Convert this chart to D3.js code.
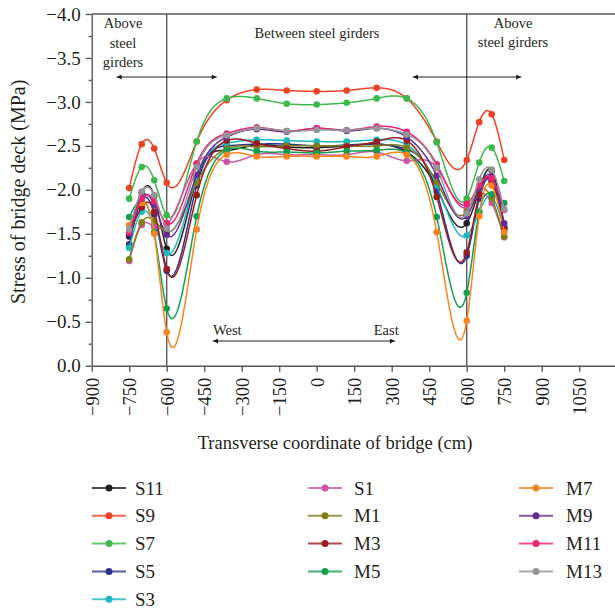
<!DOCTYPE html>
<html>
<head>
<meta charset="utf-8">
<script src="https://cdn.jsdelivr.net/npm/d3@7"></script>
<style>
  body { margin: 0; background: #fff; }
  svg { display: block; }
  text { font-family: "Liberation Serif", "Times New Roman", serif; fill: #231f20; }
</style>
</head>
<body>
<div id="svg_div"></div>
<script>
// measuring positions along the bridge (cm)
var positions = [-750, -700, -650, -600, -480, -360, -240, -120, 0, 120, 240, 360, 480, 600, 650, 700, 750];

// series names in legend order
var seriesNames = ["S11", "S9", "S7", "S5", "S3", "S1", "M1", "M3", "M5", "M7", "M9", "M11", "M13"];
var seriesColors = ["#231f20", "#ef4123", "#3cb94a", "#2e3192", "#1bb8c0", "#c857a5", "#808019",
  "#9b1b1f", "#0fa04f", "#f7841f", "#662d91", "#ec2373", "#939598"];

// stress values (MPa), one array per series
var S11 = [-1.47, -1.97, -1.93, -1.33, -2.12, -2.45, -2.51, -2.49, -2.48, -2.50, -2.52, -2.43, -2.02, -1.62, -2.00, -2.22, -1.58];
var S9  = [-2.02, -2.52, -2.47, -2.08, -2.55, -3.02, -3.14, -3.13, -3.12, -3.13, -3.16, -3.04, -2.55, -2.34, -2.77, -2.86, -2.34];
var S7  = [-1.90, -2.26, -2.11, -1.71, -2.55, -3.04, -3.04, -2.98, -2.97, -2.99, -3.04, -3.04, -2.54, -1.90, -2.31, -2.48, -2.10];
var S5  = [-1.38, -1.88, -1.72, -1.08, -2.05, -2.50, -2.52, -2.52, -2.50, -2.51, -2.52, -2.46, -1.98, -1.25, -1.90, -2.10, -1.56];
var S3  = [-1.34, -1.75, -1.60, -1.28, -2.15, -2.53, -2.57, -2.56, -2.55, -2.55, -2.57, -2.51, -2.05, -1.48, -1.75, -1.92, -1.55];
var S1  = [-1.19, -1.60, -1.58, -1.60, -2.30, -2.32, -2.40, -2.40, -2.40, -2.40, -2.43, -2.33, -2.25, -1.80, -1.95, -1.85, -1.46];
var M1  = [-1.21, -1.63, -1.65, -1.52, -2.08, -2.47, -2.49, -2.50, -2.50, -2.50, -2.50, -2.48, -2.09, -1.75, -2.00, -1.90, -1.47];
var M3  = [-1.50, -1.80, -1.75, -1.10, -1.94, -2.56, -2.53, -2.47, -2.44, -2.49, -2.55, -2.56, -1.92, -1.29, -1.95, -2.10, -1.55];
var M5  = [-1.69, -1.88, -1.52, -0.65, -1.70, -2.45, -2.44, -2.43, -2.42, -2.44, -2.45, -2.42, -1.69, -0.83, -1.75, -1.95, -1.85];
var M7  = [-1.60, -1.85, -1.50, -0.38, -1.55, -2.40, -2.38, -2.38, -2.38, -2.38, -2.38, -2.40, -1.52, -0.51, -1.70, -2.05, -1.52];
var M9  = [-1.50, -1.92, -1.83, -1.49, -2.17, -2.60, -2.69, -2.66, -2.70, -2.67, -2.70, -2.60, -2.16, -1.70, -2.02, -2.15, -1.62];
var M11 = [-1.52, -1.90, -1.87, -1.62, -2.30, -2.64, -2.71, -2.67, -2.70, -2.68, -2.72, -2.66, -2.29, -1.84, -2.05, -2.13, -1.77];
var M13 = [-1.55, -1.98, -1.94, -1.56, -2.26, -2.62, -2.70, -2.67, -2.68, -2.68, -2.70, -2.63, -2.25, -1.73, -2.12, -2.23, -1.78];
var seriesValues = [S11, S9, S7, S5, S3, S1, M1, M3, M5, M7, M9, M11, M13];

// axis ticks
var xTicks = [-900, -750, -600, -450, -300, -150, 0, 150, 300, 450, 600, 750, 900, 1050];
var yTicks = [0, -0.5, -1, -1.5, -2, -2.5, -3, -3.5, -4];
var yMinorTicks = [-0.25, -0.75, -1.25, -1.75, -2.25, -2.75, -3.25, -3.75];
var girderLines = [-600, 600];

var width = 615, height = 610;
var plot = {left: 91.7, right: 616.7, top: 14, bottom: 365.7};
var axisColor = "#58595b";

var svg = d3.select("#svg_div")
  .append("svg")
  .attr("width", width)
  .attr("height", height);

var x = d3.scaleLinear().domain([-900, 1200]).range([plot.left, plot.right]);
var y = d3.scaleLinear().domain([0, -4]).range([plot.bottom, plot.top]);

// frame: top border and girder lines
svg.append("line")
  .attr("x1", plot.left).attr("x2", plot.right)
  .attr("y1", plot.top).attr("y2", plot.top)
  .attr("stroke", axisColor).attr("stroke-width", 1.4);

svg.selectAll(".girder")
  .data(girderLines)
  .enter().append("line")
  .attr("class", "girder")
  .attr("x1", function(d) { return x(d); }).attr("x2", function(d) { return x(d); })
  .attr("y1", plot.top).attr("y2", plot.bottom)
  .attr("stroke", axisColor).attr("stroke-width", 1.4);

// x axis
var xAxis = svg.append("g")
  .attr("transform", `translate(0, ${plot.bottom})`)
  .call(d3.axisBottom(x).tickValues(xTicks).tickSize(6).tickSizeOuter(0).tickFormat(d3.format("d")));
xAxis.select(".domain").attr("stroke", axisColor).attr("stroke-width", 1.4);
xAxis.selectAll(".tick line").attr("stroke", axisColor).attr("stroke-width", 1.4);
xAxis.selectAll(".tick text")
  .attr("transform", "rotate(-90)")
  .attr("text-anchor", "end")
  .attr("x", -12)
  .attr("y", 0)
  .attr("dy", "0.35em")
  .attr("font-size", "18.5px")
  .attr("font-family", "Liberation Serif")
  .attr("fill", "#231f20");

// y axis with minor ticks
var yAxis = svg.append("g")
  .attr("transform", `translate(${plot.left}, 0)`)
  .call(d3.axisLeft(y).tickValues(yTicks).tickSize(6).tickSizeOuter(0).tickFormat(d3.format(".1f")));
yAxis.select(".domain").attr("stroke", axisColor).attr("stroke-width", 1.4);
yAxis.selectAll(".tick line").attr("stroke", axisColor).attr("stroke-width", 1.4);
yAxis.selectAll(".tick text")
  .attr("x", -11)
  .attr("font-size", "19px")
  .attr("font-family", "Liberation Serif")
  .attr("fill", "#231f20");

svg.append("g")
  .attr("transform", `translate(${plot.left}, 0)`)
  .call(d3.axisLeft(y).tickValues(yMinorTicks).tickSize(3).tickFormat(""))
  .call(function(g) {
    g.select(".domain").remove();
    g.selectAll(".tick line").attr("stroke", axisColor).attr("stroke-width", 1.4);
  });

// axis titles
svg.append("text")
  .attr("transform", `translate(25, ${(plot.top + plot.bottom) / 2 + 2}) rotate(-90)`)
  .attr("text-anchor", "middle")
  .attr("font-size", "20px")
  .text("Stress of bridge deck (MPa)");

svg.append("text")
  .attr("x", 335).attr("y", 449)
  .attr("text-anchor", "middle")
  .attr("font-size", "18.5px")
  .text("Transverse coordinate of bridge (cm)");

// annotations
var marker = svg.append("defs").append("marker")
  .attr("id", "arrow")
  .attr("viewBox", "0 0 10 10")
  .attr("refX", 10).attr("refY", 5)
  .attr("markerWidth", 9).attr("markerHeight", 5)
  .attr("markerUnits", "userSpaceOnUse")
  .attr("orient", "auto-start-reverse");
marker.append("path").attr("d", "M0,0L10,5L0,10Z").attr("fill", "#231f20");

function addArrow(x1, x2, yy) {
  svg.append("line")
    .attr("x1", x1).attr("x2", x2).attr("y1", yy).attr("y2", yy)
    .attr("stroke", "#231f20").attr("stroke-width", 1.2)
    .attr("marker-start", "url(#arrow)")
    .attr("marker-end", "url(#arrow)");
}

function addLabel(lines, cx, y0, dy) {
  lines.forEach(function(t, i) {
    svg.append("text")
      .attr("x", cx).attr("y", y0 + i * dy)
      .attr("text-anchor", "middle")
      .attr("font-size", "14.5px")
      .text(t);
  });
}

addLabel(["Above", "steel", "girders"], 123, 28, 19.5);
addLabel(["Between steel girders"], 317, 38, 0);
addLabel(["Above", "steel girders"], 513, 28, 19);
addArrow(x(-800), x(-400), 77);
addArrow(x(385), x(818), 77);
addArrow(x(-415), x(313), 341);

svg.append("text").attr("x", x(-415)).attr("y", 335).attr("font-size", "14.5px").text("West");
svg.append("text").attr("x", x(328)).attr("y", 335).attr("text-anchor", "end").attr("font-size", "14.5px").text("East");

// natural cubic spline in x (like the plotting software's spline connection)
function naturalSpline(xs, ys) {
  var n = xs.length, h = [], a = [], b = [], c = [], r = [], m = new Array(n).fill(0);
  for (var i = 0; i < n - 1; ++i) h.push(xs[i + 1] - xs[i]);
  for (i = 1; i < n - 1; ++i) {
    a[i] = h[i - 1];
    b[i] = 2 * (h[i - 1] + h[i]);
    c[i] = h[i];
    r[i] = 6 * ((ys[i + 1] - ys[i]) / h[i] - (ys[i] - ys[i - 1]) / h[i - 1]);
  }
  // tridiagonal solve for second derivatives
  for (i = 2; i < n - 1; ++i) {
    var w = a[i] / b[i - 1];
    b[i] -= w * c[i - 1];
    r[i] -= w * r[i - 1];
  }
  for (i = n - 2; i >= 1; --i) m[i] = (r[i] - (i < n - 2 ? c[i] * m[i + 1] : 0)) / b[i];
  return function(xv) {
    var k = 0;
    while (k < n - 2 && xv > xs[k + 1]) k++;
    var t1 = xs[k + 1] - xv, t0 = xv - xs[k], hk = h[k];
    return m[k] * t1 * t1 * t1 / (6 * hk) + m[k + 1] * t0 * t0 * t0 / (6 * hk)
      + (ys[k] / hk - m[k] * hk / 6) * t1 + (ys[k + 1] / hk - m[k + 1] * hk / 6) * t0;
  };
}

var line = d3.line()
  .x(function(d) { return x(d.pos); })
  .y(function(d) { return y(d.val); });

var series = seriesNames.map(function(name, i) {
  var f = naturalSpline(positions, seriesValues[i]);
  var dense = d3.range(positions[0], positions[positions.length - 1] + 0.1, 2)
    .map(function(p) { return {pos: p, val: f(p)}; });
  return {
    name: name,
    color: seriesColors[i],
    dense: dense,
    points: positions.map(function(p, j) { return {pos: p, val: seriesValues[i][j]}; })
  };
});

var groups = svg.selectAll(".series")
  .data(series)
  .enter().append("g")
  .attr("class", "series");

groups.append("path")
  .attr("d", function(d) { return line(d.dense); })
  .attr("fill", "none")
  .attr("stroke", function(d) { return d.color; })
  .attr("stroke-width", 1.5);

groups.selectAll("circle")
  .data(function(d) { return d.points.map(function(p) { return {pos: p.pos, val: p.val, color: d.color}; }); })
  .enter().append("circle")
  .attr("cx", function(d) { return x(d.pos); })
  .attr("cy", function(d) { return y(d.val); })
  .attr("r", 3.3)
  .attr("fill", function(d) { return d.color; });

// legend, three columns
var legendCols = [{lx: 92, tx: 135}, {lx: 308, tx: 354}, {lx: 519, tx: 566}];
var legendRows = [5, 4, 4];
var legendY0 = 488, legendStep = 27.8;

var idx = 0;
legendCols.forEach(function(col, c) {
  for (var r = 0; r < legendRows[c]; ++r) {
    var s = series[idx];
    var ly = legendY0 + r * legendStep;
    svg.append("line")
      .attr("x1", col.lx).attr("x2", col.lx + 34)
      .attr("y1", ly).attr("y2", ly)
      .attr("stroke", s.color).attr("stroke-width", 2).attr("stroke-opacity", 0.8);
    svg.append("circle")
      .attr("cx", col.lx + 17).attr("cy", ly).attr("r", 3.5)
      .attr("fill", s.color);
    svg.append("text")
      .attr("x", col.tx).attr("y", ly)
      .attr("dy", "0.35em")
      .attr("font-size", "19px")
      .text(s.name);
    idx++;
  }
});
</script>
</body>
</html>
